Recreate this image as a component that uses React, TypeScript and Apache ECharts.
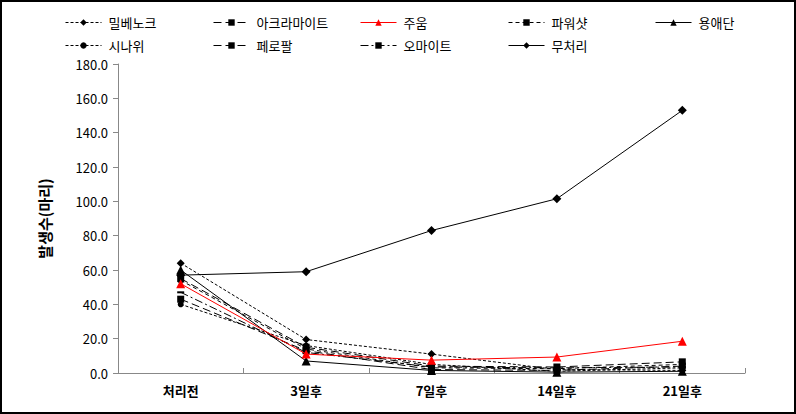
import React, { useEffect, useRef } from "react";
import * as echarts from "echarts";

const categories = ["처리전", "3일후", "7일후", "14일후", "21일후"];
const seriesNames = ["밀베노크", "아크라마이트", "주움", "파워샷", "용애단", "시나위", "페로팔", "오마이트", "무처리"];

const milbenock = [64, 19.5, 11, 2, 1.5];
const acramite = [55, 15, 4, 3.5, 6.5];
const juum = [52, 11, 7.5, 9.3, 18.5];
const powershot = [54, 14, 3, 2.5, 5];
const yongaedan = [60, 7, 1.5, 0.5, 1];
const sinawi = [40, 16, 5, 1, 3];
const feropal = [43, 13, 2, 1.5, 4];
const omite = [47, 12, 3.5, 3, 3.5];
const untreated = [57, 59, 83, 101.5, 153];

const yTicks = [0, 20, 40, 60, 80, 100, 120, 140, 160, 180];

const FONT = "'Noto Sans CJK KR', 'Noto Sans', sans-serif";

export default function App() {
  const ref = useRef<HTMLDivElement>(null);
  useEffect(() => {
    if (!ref.current) return;
    const chart = echarts.init(ref.current, undefined, { renderer: "svg" });
    const mk = (
      name: string,
      data: number[],
      color: string,
      type: any,
      symbol: string,
      symbolSize: any
    ) => ({
      name,
      type: "line",
      data,
      symbol,
      symbolSize,
      showSymbol: true,
      itemStyle: { color },
      lineStyle: { color, width: 1, type },
      emphasis: { disabled: true },
      z: name === "주움" ? 5 : 3,
    });
    const series = [
      mk("밀베노크", milbenock, "#000", [3, 2], "diamond", 8),
      mk("아크라마이트", acramite, "#000", [8, 4], "rect", 7),
      mk("주움", juum, "#ff0000", "solid", "triangle", 9),
      mk("파워샷", powershot, "#000", [4, 3], "rect", 5),
      mk("용애단", yongaedan, "#000", "solid", "triangle", 9),
      mk("시나위", sinawi, "#000", [3, 2], "circle", 6),
      mk("페로팔", feropal, "#000", [8, 4], "rect", 7),
      mk("오마이트", omite, "#000", [8, 3, 2, 3], "rect", [7, 2]),
      mk("무처리", untreated, "#000", "solid", "diamond", 9),
    ];
    const colX = [60, 208, 355, 503, 650];
    const rowY = [11, 34];
    const legends = seriesNames.map((n, i) => ({
      data: [n],
      left: colX[i % 5],
      top: rowY[Math.floor(i / 5)],
      itemWidth: 36,
      itemHeight: 8,
      itemGap: 0,
      lineStyle: { width: 1 },
      textStyle: { fontFamily: FONT, fontSize: 13, color: "#000", padding: [0, 0, 0, 2] },
      selectedMode: false,
    }));
    chart.setOption({
      animation: false,
      backgroundColor: "#fff",
      legend: legends,
      grid: { left: 118, right: 51, top: 64, bottom: 41, containLabel: false },
      xAxis: {
        type: "category",
        data: categories,
        boundaryGap: true,
        axisLine: { lineStyle: { color: "#888", width: 1 } },
        axisTick: { show: true, inside: true, length: 5, lineStyle: { color: "#888" } },
        axisLabel: { fontFamily: FONT, fontSize: 13, fontWeight: "bold", color: "#000", margin: 11 },
        splitLine: { show: false },
      },
      yAxis: {
        type: "value",
        min: 0,
        max: yTicks[yTicks.length - 1],
        interval: 20,
        name: "발생수(마리)",
        nameLocation: "middle",
        nameRotate: 90,
        nameGap: 66,
        nameTextStyle: { fontFamily: FONT, fontSize: 15, fontWeight: "bold", color: "#000" },
        axisLine: { show: true, lineStyle: { color: "#888", width: 1 } },
        axisTick: { show: true, inside: false, length: 5, lineStyle: { color: "#888" } },
        axisLabel: {
          fontFamily: FONT,
          fontSize: 13,
          color: "#000",
          margin: 10,
          formatter: (v: number) => v.toFixed(1),
        },
        splitLine: { show: false },
      },
      graphic: [
        {
          type: "rect",
          shape: { x: 1, y: 1, width: 794, height: 412 },
          style: { fill: "none", stroke: "#000", lineWidth: 2 },
          silent: true,
          z: 100,
        },
      ],
      series,
    });
    return () => chart.dispose();
  }, []);
  return (
    <div
      ref={ref}
      style={{ position: "absolute", left: 0, top: 0, width: 796, height: 414 }}
    />
  );
}
